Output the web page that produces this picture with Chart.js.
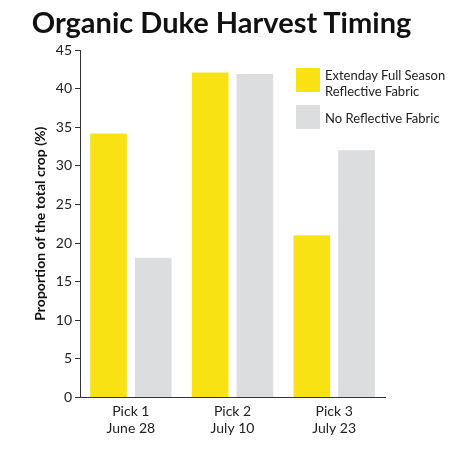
<!DOCTYPE html>
<html><head><meta charset="utf-8">
<script src="https://cdn.jsdelivr.net/npm/chart.js@4"></script>
<style>
body{margin:0;background:#fff;font-family:Lato,sans-serif;}
#wrap{position:relative;width:463px;height:459px;}
#title{position:absolute;top:4px;left:-10px;width:463px;text-align:center;font:bold 29px Lato,sans-serif;color:#111;}
.lg{position:absolute;left:296px;font:13px Lato,sans-serif;color:#222;line-height:16px;}
.sw{position:absolute;left:296px;width:24px;height:24px;}
</style></head><body>
<div id="wrap">
<div id="title">Organic Duke Harvest Timing</div>
<canvas id="c" width="463" height="459"></canvas>
<div class="sw" style="top:68px;background:#F8E214"></div>
<div class="lg" style="top:67px;left:325px">Extenday Full Season<br>Reflective Fabric</div>
<div class="sw" style="top:105px;background:#DCDDDF"></div>
<div class="lg" style="top:110px;left:325px">No Reflective Fabric</div>
</div>
<script>
const categories=[["Pick 1","June 28"],["Pick 2","July 10"],["Pick 3","July 23"]];
const extenday=[34.2,42.1,21.0];
const noFabric=[18.1,41.9,32.0];
new Chart(document.getElementById('c'),{type:'bar',
data:{labels:categories,datasets:[
{label:'Extenday Full Season Reflective Fabric',data:extenday,backgroundColor:'#F8E214'},
{label:'No Reflective Fabric',data:noFabric,backgroundColor:'#DCDDDF'}]},
options:{responsive:false,animation:false,barPercentage:0.82,categoryPercentage:0.88,
layout:{padding:{top:50,right:78,bottom:16,left:28}},
plugins:{legend:{display:false},tooltip:{enabled:false}},
scales:{
x:{grid:{drawOnChartArea:false,drawTicks:false},border:{color:'#333'},ticks:{color:'#222',font:{family:'Lato',size:14},padding:6}},
y:{min:0,max:45,ticks:{stepSize:5,color:'#222',font:{family:'Lato',size:14}},grid:{drawOnChartArea:false,tickLength:5,color:'#333'},border:{color:'#333'},
title:{display:true,text:'Proportion of the total crop (%)',color:'#111',font:{family:'Lato',size:14,weight:'bold'}}}}}});
</script></body></html>
